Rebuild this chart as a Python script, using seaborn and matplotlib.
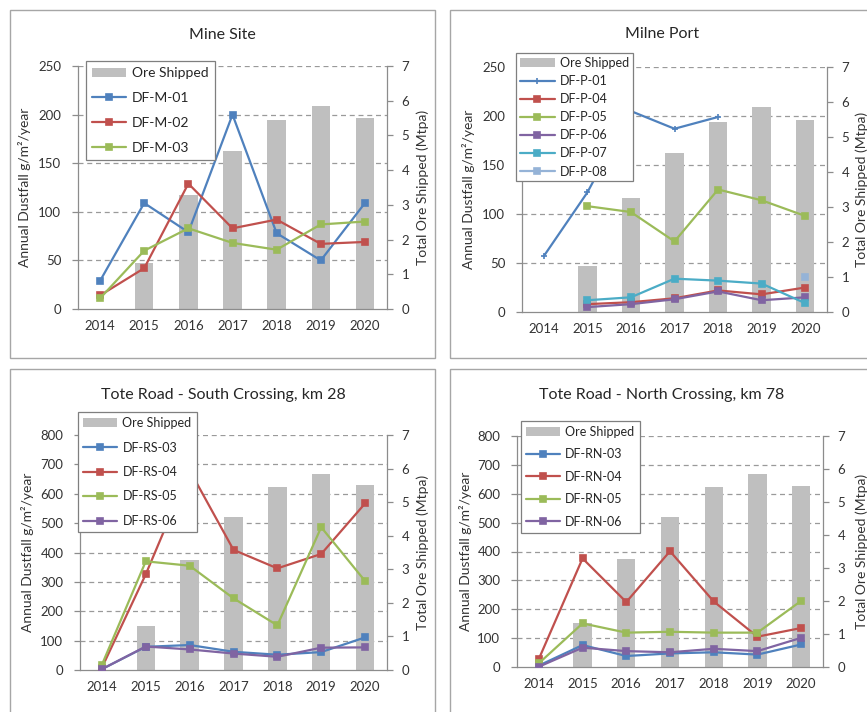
import numpy as np
import pandas as pd
import matplotlib
matplotlib.use("Agg")
import matplotlib.pyplot as plt
from matplotlib.patches import Rectangle
import seaborn as sns

# ---------------- data ----------------
years = [2014, 2015, 2016, 2017, 2018, 2019, 2020]
ore_shipped = [0.0, 1.32, 3.27, 4.55, 5.44, 5.85, 5.50]
nan = np.nan

# Mine Site
df_m_01 = [29, 109, 79, 200, 78, 50, 109]
df_m_02 = [14, 42, 129, 83, 92, 67, 69]
df_m_03 = [11, 60, 83, 68, 61, 87, 90]

# Milne Port
df_p_01 = [57, 122, 205, 187, 199, nan, nan]
df_p_04 = [nan, 8, 10, 14, 22, 18, 25]
df_p_05 = [nan, 108, 102, 72, 125, 114, 98]
df_p_06 = [nan, 5, 8, 13, 21, 12, 15]
df_p_07 = [nan, 12, 15, 34, 32, 29, 9]
df_p_08 = [nan, nan, nan, nan, nan, nan, 36]

# Tote Road - South Crossing
df_rs_03 = [3, 79, 85, 62, 52, 61, 111]
df_rs_04 = [8, 326, 680, 409, 346, 395, 567]
df_rs_05 = [18, 370, 355, 244, 152, 486, 303]
df_rs_06 = [3, 80, 70, 56, 45, 76, 77]

# Tote Road - North Crossing
df_rn_03 = [5, 76, 38, 47, 51, 43, 78]
df_rn_04 = [28, 376, 225, 401, 227, 105, 135]
df_rn_05 = [13, 151, 119, 122, 119, 119, 229]
df_rn_06 = [1, 67, 55, 51, 63, 55, 101]

titles = ["Mine Site", "Milne Port",
          "Tote Road - South Crossing, km 28", "Tote Road - North Crossing, km 78"]

BLUE, RED, GREEN, PURPLE, TEAL, LBLUE = "#4F81BD", "#C0504D", "#9BBB59", "#8064A2", "#4BACC6", "#95B3D7"

# ---------------- style ----------------
sns.set_style("white")
plt.rcParams["font.family"] = ["Lato", "DejaVu Sans"]

W, H = 867, 712
fig = plt.figure(figsize=(W / 100, H / 100), dpi=100)
fig.patch.set_facecolor("white")


def rect(l, t, r, b):
    return [l / W, 1 - b / H, (r - l) / W, (b - t) / H]


TXT = "#333333"
AXC = "#8C8C8C"


def draw_panel(title, panel_box, axes_box, dust_max, dust_step, series,
               title_xy, ylab_x, leg_xy, leg_kw):
    l, t, r, b = panel_box
    fig.add_artist(Rectangle((l / W, 1 - b / H), (r - l) / W, (b - t) / H,
                             transform=fig.transFigure, fill=False,
                             ec="#A6A6A6", lw=1.0))
    ax_bar = fig.add_axes(rect(*axes_box))
    ax_line = ax_bar.twinx()

    # bars (secondary scale, drawn beneath)
    bar_df = pd.DataFrame({"year": years, "ore": ore_shipped})
    sns.barplot(data=bar_df, x="year", y="ore", native_scale=True, width=0.42,
                color="#BFBFBF", saturation=1, linewidth=0, ax=ax_bar,
                label="Ore Shipped", zorder=2)
    if ax_bar.get_legend() is not None:
        ax_bar.get_legend().remove()
    ore_max = 7
    for v in np.arange(dust_step, dust_max + 1, dust_step):
        ax_bar.axhline(v / dust_max * ore_max, color="#9A9A9A", lw=0.9,
                       ls=(0, (4, 3)), zorder=1)

    # lines (primary dustfall scale)
    for name, vals, color, marker, ms in series:
        d = pd.DataFrame({"year": years, "v": vals}).dropna()
        sns.lineplot(data=d, x="year", y="v", color=color, marker=marker,
                     markersize=ms, markeredgecolor=color, markeredgewidth=1.2,
                     lw=1.6, label=name, ax=ax_line, errorbar=None,
                     legend=False, zorder=3)
    if ax_line.get_legend() is not None:
        ax_line.get_legend().remove()

    # bar axis -> right side
    ax_bar.set_ylim(0, ore_max)
    ax_bar.set_yticks(range(0, 8))
    ax_bar.yaxis.set_ticks_position("right")
    ax_bar.yaxis.set_label_position("right")
    ax_bar.set_xlim(2013.5, 2020.5)
    ax_bar.set_xticks(np.arange(2013.5, 2021, 1.0))
    ax_bar.set_xticklabels([])
    ax_bar.set_xticks(years, minor=True)
    ax_bar.set_xticklabels([str(y) for y in years], minor=True)
    ax_bar.tick_params(axis="x", which="major", length=4, width=0.9,
                       color=AXC, direction="out")
    ax_bar.tick_params(axis="x", which="minor", length=0, pad=8,
                       labelsize=9.5, labelcolor=TXT)
    ax_bar.tick_params(axis="y", length=4, width=0.9, color=AXC,
                       direction="out", pad=6.5, labelsize=9.5,
                       labelcolor=TXT, left=False, right=True,
                       labelleft=False, labelright=True)
    for s in ["left", "right", "bottom"]:
        ax_bar.spines[s].set_color(AXC)
        ax_bar.spines[s].set_linewidth(0.9)
    ax_bar.spines["top"].set_visible(False)
    ax_bar.set_xlabel("")
    ax_bar.set_ylabel("")

    # line axis -> left side
    ax_line.set_ylim(0, dust_max)
    ax_line.set_yticks(np.arange(0, dust_max + 1, dust_step))
    ax_line.yaxis.set_ticks_position("left")
    ax_line.tick_params(axis="y", length=4, width=0.9, color=AXC,
                        direction="out", pad=8, labelsize=9.5,
                        labelcolor=TXT, left=True, right=False,
                        labelleft=True, labelright=False)
    for s in ax_line.spines.values():
        s.set_visible(False)
    ax_line.set_xlabel("")
    ax_line.set_ylabel("")
    ax_line.set_xlim(2013.5, 2020.5)

    h1, l1 = ax_bar.get_legend_handles_labels()
    h2, l2 = ax_line.get_legend_handles_labels()
    leg = ax_line.legend(h1 + h2, l1 + l2, loc="upper left",
                         bbox_to_anchor=(leg_xy[0] / W, 1 - leg_xy[1] / H),
                         bbox_transform=fig.transFigure, borderaxespad=0,
                         frameon=True, fancybox=False, framealpha=1,
                         edgecolor="#7F7F7F", handletextpad=0.4,
                         labelcolor="#262626", **leg_kw)
    leg.get_frame().set_linewidth(0.9)

    fig.text(title_xy[0] / W, 1 - title_xy[1] / H, title, ha="center",
             va="center", fontsize=11.5, color="#262626")
    cy = 1 - (axes_box[1] + axes_box[3]) / 2 / H
    fig.text(ylab_x[0] / W, cy, "Annual Dustfall g/m²/year", rotation=90,
             ha="center", va="center", fontsize=10, color=TXT)
    fig.text(ylab_x[1] / W, cy, "Total Ore Shipped (Mtpa)", rotation=90,
             ha="center", va="center", fontsize=10, color=TXT)


draw_panel(titles[0], (10, 10, 435, 358), (78, 66, 387, 309), 250, 50,
           [("DF-M-01", df_m_01, BLUE, "s", 4),
            ("DF-M-02", df_m_02, RED, "s", 4),
            ("DF-M-03", df_m_03, GREEN, "s", 4)],
           (222, 35), (25, 423), (86, 61),
           dict(fontsize=10, labelspacing=0.93, borderpad=0.45,
                handlelength=2.45))

draw_panel(titles[1], (450, 10, 880, 358), (522, 67, 827, 312), 250, 50,
           [("DF-P-01", df_p_01, BLUE, "+", 5),
            ("DF-P-04", df_p_04, RED, "s", 4),
            ("DF-P-05", df_p_05, GREEN, "s", 4),
            ("DF-P-06", df_p_06, PURPLE, "s", 4),
            ("DF-P-07", df_p_07, TEAL, "s", 4),
            ("DF-P-08", df_p_08, LBLUE, "s", 4)],
           (662, 34), (468, 862), (516, 53),
           dict(fontsize=9, labelspacing=0.49, borderpad=0.3,
                handlelength=2.8))

draw_panel(titles[2], (10, 369, 435, 725), (80, 435, 387, 670), 800, 100,
           [("DF-RS-03", df_rs_03, BLUE, "s", 4),
            ("DF-RS-04", df_rs_04, RED, "s", 4),
            ("DF-RS-05", df_rs_05, GREEN, "s", 4),
            ("DF-RS-06", df_rs_06, PURPLE, "s", 4)],
           (223, 395), (27, 423), (78, 412),
           dict(fontsize=9, labelspacing=1.0, borderpad=0.4,
                handlelength=2.75))

draw_panel(titles[3], (450, 369, 880, 725), (517, 436, 823, 667), 800, 100,
           [("DF-RN-03", df_rn_03, BLUE, "s", 4),
            ("DF-RN-04", df_rn_04, RED, "s", 4),
            ("DF-RN-05", df_rn_05, GREEN, "s", 4),
            ("DF-RN-06", df_rn_06, PURPLE, "s", 4)],
           (662, 395), (465, 862), (521, 421),
           dict(fontsize=9, labelspacing=0.83, borderpad=0.4,
                handlelength=2.75))

fig.savefig("out.png", dpi=100, facecolor="white")
